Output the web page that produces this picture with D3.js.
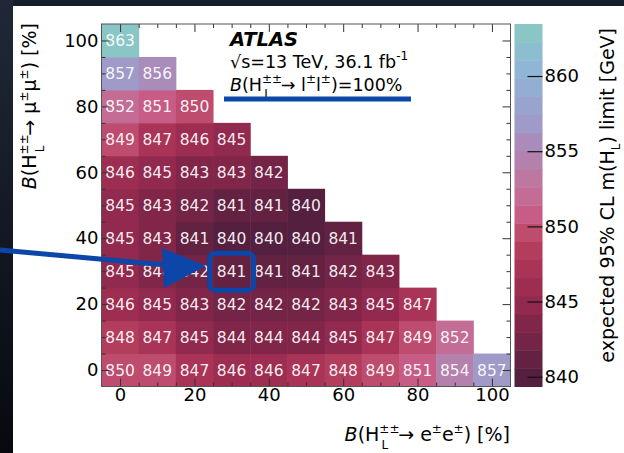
<!DOCTYPE html>
<html><head><meta charset="utf-8">
<script src="https://cdn.jsdelivr.net/npm/d3@7"></script>
<style>
body{margin:0;background:#fff}
svg{display:block}
text{font-family:"DejaVu Sans",sans-serif}
</style>
</head><body><svg id="c" width="624" height="453"></svg>
<script>
// ---- data ----
const eeFractions = [0,10,20,30,40,50,60,70,80,90,100];
const mumuFractions = [0,10,20,30,40,50,60,70,80,90,100];
// expected 95% CL limits [GeV]; one row per B(mu mu) value, entries by B(ee)
const limitsMuMu0   = [850,849,847,846,846,847,848,849,851,854,857];
const limitsMuMu10  = [848,847,845,844,844,844,845,847,849,852];
const limitsMuMu20  = [846,845,843,842,842,842,843,845,847];
const limitsMuMu30  = [845,844,842,841,841,841,842,843];
const limitsMuMu40  = [845,843,841,840,840,840,841];
const limitsMuMu50  = [845,843,842,841,841,840];
const limitsMuMu60  = [846,845,843,843,842];
const limitsMuMu70  = [849,847,846,845];
const limitsMuMu80  = [852,851,850];
const limitsMuMu90  = [857,856];
const limitsMuMu100 = [863];
const limitRows = [limitsMuMu0,limitsMuMu10,limitsMuMu20,limitsMuMu30,limitsMuMu40,
  limitsMuMu50,limitsMuMu60,limitsMuMu70,limitsMuMu80,limitsMuMu90,limitsMuMu100];
const xTickLabels = [0,20,40,60,80,100];
const yTickLabels = [0,20,40,60,80,100];
const zTickLabels = [840,845,850,855,860];
const zRange = [839.35, 863.46];
const palette = ["#55203f","#642243","#732447","#822649","#92294e","#9e2d52","#a93457",
  "#b23d5d","#bd4c6e","#c75d86","#c36d96","#bc78a1","#b481ac","#aa8cba","#9f9ac8",
  "#98a4ce","#93aed2","#8fb6d4","#8cbecf","#8ac6c6"];

// ---- layout ----
const L = 101.5, R = 510.5, T = 24, B = 386.5;
const svg = d3.select("#c");
const x = d3.scaleLinear().domain([-5,105]).range([L,R]);
const y = d3.scaleLinear().domain([-5,105]).range([B,T]);
const z = d3.scaleLinear().domain(zRange).range([B,T]);
const color = d3.scaleQuantize().domain(zRange).range(palette);

// dark slide background edges
const defs = svg.append("defs");
const g1 = defs.append("linearGradient").attr("id","lg").attr("x1",0).attr("y1",0).attr("x2",0).attr("y2",1);
g1.append("stop").attr("offset","0").attr("stop-color","#202838");
g1.append("stop").attr("offset","1").attr("stop-color","#07090e");
svg.append("rect").attr("x",0).attr("y",0).attr("width",624).attr("height",6).attr("fill","#161d2b");
svg.append("rect").attr("x",0).attr("y",0).attr("width",13).attr("height",453).attr("fill","url(#lg)");

// ---- cells ----
const cells = [];
limitRows.forEach((row,i)=>row.forEach((v,j)=>cells.push({ee:eeFractions[j],mm:mumuFractions[i],v})));
const cg = svg.append("g");
cg.selectAll("rect").data(cells).join("rect")
  .attr("x",d=>x(d.ee-5)).attr("y",d=>y(d.mm+5))
  .attr("width",d=>x(d.ee+5)-x(d.ee-5)+0.5).attr("height",d=>y(d.mm-5)-y(d.mm+5)+0.5)
  .attr("fill",d=>color(d.v));
cg.selectAll("text").data(cells).join("text")
  .attr("x",d=>x(d.ee)).attr("y",d=>y(d.mm)).attr("dy","0.37em")
  .attr("text-anchor","middle").attr("font-size",15.5).attr("fill","#fff").attr("fill-opacity",0.93)
  .text(d=>d.v);

// ---- axes ----
const majorVals = d3.range(0,101,20), minorVals = d3.range(0,101,5).filter(v=>v%20!==0);
function styleAxis(g){ g.select(".domain").remove(); g.selectAll("line").attr("stroke","#333"); g.selectAll("text").attr("font-size",18).attr("fill","#000").attr("font-family","DejaVu Sans"); }
svg.append("g").attr("transform",`translate(0,${B})`)
  .call(d3.axisBottom(x).tickValues(xTickLabels).tickSize(-8).tickPadding(2)).call(styleAxis);
svg.append("g").attr("transform",`translate(0,${B})`)
  .call(d3.axisBottom(x).tickValues(minorVals).tickSize(-4).tickFormat("")).call(styleAxis);
svg.append("g").attr("transform",`translate(0,${T})`)
  .call(d3.axisTop(x).tickValues(majorVals).tickSize(-8).tickFormat("")).call(styleAxis);
svg.append("g").attr("transform",`translate(0,${T})`)
  .call(d3.axisTop(x).tickValues(minorVals).tickSize(-4).tickFormat("")).call(styleAxis);
svg.append("g").attr("transform",`translate(${L},0)`)
  .call(d3.axisLeft(y).tickValues(yTickLabels).tickSize(-8).tickPadding(3)).call(styleAxis);
svg.append("g").attr("transform",`translate(${L},0)`)
  .call(d3.axisLeft(y).tickValues(minorVals).tickSize(-4).tickFormat("")).call(styleAxis);
svg.append("g").attr("transform",`translate(${R},0)`)
  .call(d3.axisRight(y).tickValues(majorVals).tickSize(-8).tickFormat("")).call(styleAxis);
svg.append("g").attr("transform",`translate(${R},0)`)
  .call(d3.axisRight(y).tickValues(minorVals).tickSize(-4).tickFormat("")).call(styleAxis);
svg.append("rect").attr("x",L).attr("y",T).attr("width",R-L).attr("height",B-T)
  .attr("fill","none").attr("stroke","#555").attr("stroke-width",1);

// ---- colour bar ----
const CL = 514.5, CR = 542.5;
const nb = palette.length, bw = (zRange[1]-zRange[0])/nb;
svg.append("g").selectAll("rect").data(palette).join("rect")
  .attr("x",CL).attr("width",CR-CL)
  .attr("y",(c,i)=>z(zRange[0]+(i+1)*bw)).attr("height",(c,i)=>z(zRange[0]+i*bw)-z(zRange[0]+(i+1)*bw)+0.5)
  .attr("fill",c=>c);
svg.append("g").attr("transform",`translate(${CR},0)`)
  .call(d3.axisRight(z).tickValues(zTickLabels).tickSize(-15).tickFormat(d3.format("d")))
  .call(g=>{g.select(".domain").remove(); g.selectAll("line").attr("stroke","#111").attr("stroke-width",1.2);
    g.selectAll("text").attr("font-size",18).attr("fill","#000").attr("font-family","DejaVu Sans").attr("x",2);});

// ---- axis titles ----
function hLabel(t, rest){ // B(H±±_L → rest) [%]
  t.append("tspan").attr("font-style","italic").text("B");
  t.append("tspan").text("(H");
  t.append("tspan").attr("font-size",12).attr("dy",-8).text("±±");
  t.append("tspan").attr("font-size",12).attr("dx",-18).attr("dy",16).text("L");
  t.append("tspan").attr("dx",10).attr("dy",-8).text("\u2192 ");
  rest(t);
}
const xt = svg.append("text").attr("x",510).attr("y",441).attr("text-anchor","end").attr("font-size",19);
hLabel(xt, t=>{ t.append("tspan").text("e"); t.append("tspan").attr("font-size",12).attr("dy",-8).text("±");
  t.append("tspan").attr("dy",8).text("e"); t.append("tspan").attr("font-size",12).attr("dy",-8).text("±");
  t.append("tspan").attr("dy",8).text(") [%]"); });
const yt = svg.append("text").attr("transform","translate(36,23) rotate(-90)").attr("text-anchor","end").attr("font-size",19);
hLabel(yt, t=>{ t.append("tspan").text("\u03bc"); t.append("tspan").attr("font-size",12).attr("dy",-8).text("±");
  t.append("tspan").attr("dy",8).text("\u03bc"); t.append("tspan").attr("font-size",12).attr("dy",-8).text("±");
  t.append("tspan").attr("dy",8).text(") [%]"); });
const zt = svg.append("text").attr("transform","translate(614,28) rotate(-90)").attr("text-anchor","end").attr("font-size",19);
zt.append("tspan").text("expected 95% CL m(H");
zt.append("tspan").attr("font-size",12).attr("dy",6).text("L");
zt.append("tspan").attr("dy",-6).text(") limit [GeV]");

// ---- ATLAS label ----
const lab = svg.append("g");
lab.append("text").attr("x",230).attr("y",46).attr("font-size",19.5).attr("font-weight","bold").attr("font-style","italic").text("ATLAS");
const s2 = lab.append("text").attr("x",230).attr("y",68).attr("font-size",17.5);
s2.append("tspan").text("\u221As=13 TeV, 36.1 fb");
s2.append("tspan").attr("font-size",12).attr("dy",-8).text("-1");
const s3 = lab.append("text").attr("x",230).attr("y",91).attr("font-size",17.5);
s3.append("tspan").attr("font-style","italic").text("B");
s3.append("tspan").text("(H");
s3.append("tspan").attr("font-size",12).attr("dy",-8).text("±±");
s3.append("tspan").attr("font-size",12).attr("dx",-18).attr("dy",15).text("L");
s3.append("tspan").attr("dx",10).attr("dy",-7).text("\u2192 l");
s3.append("tspan").attr("font-size",12).attr("dy",-8).text("±");
s3.append("tspan").attr("dy",8).text("l");
s3.append("tspan").attr("font-size",12).attr("dy",-8).text("±");
s3.append("tspan").attr("dy",8).text(")=100%");

// ---- blue annotations ----
const blue = "#0b46a8";
const ann = svg.append("g");
ann.append("line").attr("x1",224).attr("x2",411).attr("y1",99).attr("y2",99).attr("stroke",blue).attr("stroke-width",5);
ann.append("line").attr("x1",0).attr("y1",250).attr("x2",166).attr("y2",265).attr("stroke",blue).attr("stroke-width",5);
ann.append("path").attr("d","M162,248 L206,266 L164,288 Z").attr("fill",blue);
ann.append("rect").attr("x",x(30)-22).attr("y",y(30)-18).attr("width",44).attr("height",37).attr("rx",6)
  .attr("fill","none").attr("stroke",blue).attr("stroke-width",5);
</script></body></html>
